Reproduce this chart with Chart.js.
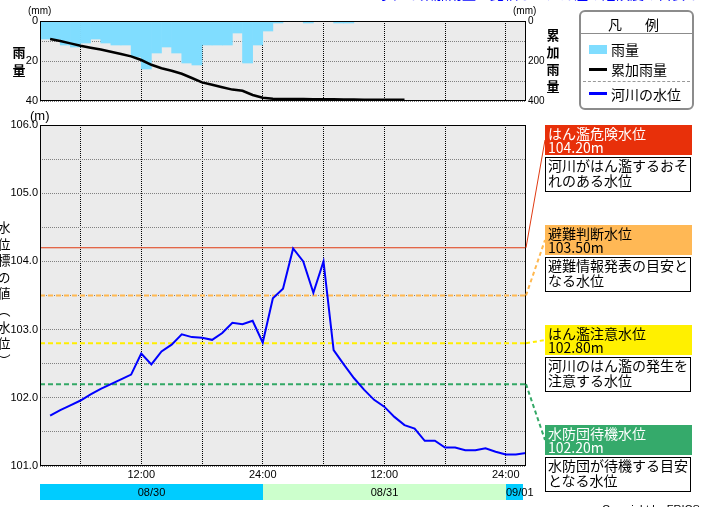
<!DOCTYPE html>
<html><head><meta charset="utf-8">
<script src="https://cdn.jsdelivr.net/npm/chart.js@4.4.0/dist/chart.umd.min.js"></script>
<style>
html,body{margin:0;padding:0;background:#fff;}
#wrap{position:relative;width:703px;height:507px;overflow:hidden;font-family:'Noto Sans CJK JP',sans-serif;color:#000;}
canvas{position:absolute;left:0;top:0;}
.abs{position:absolute;white-space:nowrap;}
.num{font-family:'Liberation Sans',Arial,sans-serif;}
.hdr{position:absolute;left:545px;width:147px;height:30px;box-sizing:border-box;padding:1px 0 0 3px;font-size:14px;line-height:14px;white-space:nowrap;}
.desc{position:absolute;left:545px;width:146px;height:35px;box-sizing:border-box;border:1px solid #000;background:#fff;padding:0 0 0 2px;font-size:14px;line-height:15px;white-space:nowrap;}
.vt{position:absolute;text-align:center;white-space:pre;}
</style></head>
<body>
<div id="wrap">
  <canvas id="main" width="703" height="507"></canvas>
  <canvas id="rain" width="703" height="110"></canvas>
  <div id="overlay"></div>
</div>
<script>
// ---- data ----
// hours are counted from 08/30 02:00 (left edge of the time axis)
const waterStartHour = 1; // first reading 08/30 03:00, hourly
const waterLevel = [101.74, 101.82, 101.89, 101.96, 102.05, 102.13, 102.20, 102.27, 102.34, 102.65,
  102.49, 102.68, 102.78, 102.93, 102.89, 102.88, 102.85, 102.95, 103.10, 103.08,
  103.13, 102.81, 103.46, 103.60, 104.19, 104.00, 103.54, 104.00, 102.70, 102.49,
  102.29, 102.12, 101.97, 101.87, 101.72, 101.60, 101.55, 101.37, 101.37, 101.27,
  101.27, 101.23, 101.23, 101.26, 101.21, 101.17, 101.17, 101.19];
const rainHourly = [9, 9, 12, 13, 11, 9, 11, 12, 12, 18, 24, 16, 13, 16, 21, 22, 12, 12, 12, 6,
  21, 12, 5, 1, 0, 0, 1, 0, 0, 1, 1, 0, 0, 0, 0, 0, 0, 0, 0, 0, 0, 0, 0, 0, 0, 0, 0, 0];
const cumStartHour = 1;
const cumRain = [90, 100, 112, 124, 134, 143, 154, 165, 177, 195, 219, 236, 249, 264, 285, 307, 319, 331, 343, 349,
  370, 384, 389, 390, 390, 390, 391, 391, 391, 392, 393, 394, 394, 394, 394, 394];
const xGridHours = [4, 10, 16, 22, 28, 34, 40, 46];
const xTickLabels = ['', '12:00', '', '24:00', '', '12:00', '', '24:00'];
const levelTickValues = [101, 101.5, 102, 102.5, 103, 103.5, 104, 104.5, 105, 105.5, 106];
const levelTickLabels = ['101.0', '', '102.0', '', '103.0', '', '104.0', '', '105.0', '', '106.0'];
const rainTickValues = [0, 10, 20, 30, 40];
const rainTickLabels = ['0', '', '20', '', '40'];
const cumTickValues = [0, 200, 400];
const cumTickLabels = ['0', '200', '400'];
const dayLabels = ['08/30', '08/31', '09/01'];
const dayStartHours = [0, 22, 46];
const dayEndHours = [22, 46, 47.75];
const dayColors = ['#00CCFF', '#CCFFCC', '#00CCFF'];
const thresholdNames = ['はん濫危険水位', '避難判断水位', 'はん濫注意水位', '水防団待機水位'];
const thresholdValues = [104.20, 103.50, 102.80, 102.20];
const thresholdNotes = [['河川がはん濫するおそ', 'れのある水位'], ['避難情報発表の目安と', 'なる水位'],
  ['河川のはん濫の発生を', '注意する水位'], ['水防団が待機する目安', 'となる水位']];
const thresholdColors = ['#E8300A', '#FFB855', '#FFF000', '#35AA6B'];
const thresholdLineColors = ['#E03A12', '#FFB850', '#FFEE00', '#33A866'];
const thresholdTextColors = ['#FFFFFF', '#000000', '#000000', '#FFFFFF'];

// ---- overlay html (labels, legend) ----
const ov = document.getElementById('overlay');
function add(html){ ov.insertAdjacentHTML('beforeend', html); }
const labelTop0 = 125, labelStep = 100;
thresholdNames.forEach((n, i) => {
  const t = labelTop0 + labelStep * i;
  add(`<div class="hdr" style="top:${t}px;background:${thresholdColors[i]};color:${thresholdTextColors[i]}">${n}<br>${thresholdValues[i].toFixed(2)}m</div>`);
  add(`<div class="desc" style="top:${t + 32}px">${thresholdNotes[i][0]}<br>${thresholdNotes[i][1]}</div>`);
});
// legend
add(`<div class="abs" style="left:579px;top:10px;width:115px;height:100px;box-sizing:border-box;border:2px solid #8c8c8c;border-radius:6px;"></div>`);
add(`<div class="abs" style="left:608px;top:16px;font-size:14px;line-height:16px;letter-spacing:4.5px">凡　例</div>`);
add(`<div class="abs" style="left:581px;top:33px;width:111px;height:1px;background:#8c8c8c"></div>`);
add(`<div class="abs" style="left:589px;top:45px;width:18px;height:9px;background:#80DDFF"></div>`);
add(`<div class="abs" style="left:611px;top:41px;font-size:14px;line-height:16px">雨量</div>`);
add(`<div class="abs" style="left:589px;top:68px;width:18px;height:3px;background:#000"></div>`);
add(`<div class="abs" style="left:611px;top:61px;font-size:14px;line-height:16px">累加雨量</div>`);
add(`<div class="abs" style="left:583px;top:81px;width:107px;height:0;border-top:1px dashed #999"></div>`);
add(`<div class="abs" style="left:589px;top:92px;width:18px;height:3px;background:#0000FF"></div>`);
add(`<div class="abs" style="left:611px;top:86px;font-size:14px;line-height:16px">河川の水位</div>`);
// axis titles / units
add(`<div class="abs num" style="left:28px;top:5px;font-size:10px;line-height:12px">(mm)</div>`);
add(`<div class="abs num" style="left:513px;top:5px;font-size:10px;line-height:12px">(mm)</div>`);
add(`<div class="abs num" style="left:30px;top:108px;font-size:13px;line-height:16px">(m)</div>`);
add(`<div class="vt" style="left:12px;top:43px;width:14px;font-size:13px;line-height:18px;font-weight:bold">雨\n量</div>`);
add(`<div class="vt" style="left:546px;top:26px;width:14px;font-size:13px;line-height:17px;font-weight:bold">累\n加\n雨\n量</div>`);
add(`<div class="vt" style="left:-3px;top:219px;width:14px;font-size:13px;line-height:16.6px">水\n位\n標\nの\n値\n︵\n水\n位\n︶</div>`);
add(`<div class="abs" style="left:378px;top:-14px;font-size:14px;line-height:15px;color:#0000FF">水位と累加雨量を比較し、はん濫の危険度の目安としてください。</div>`);
add(`<div class="abs num" style="left:602px;top:503px;font-size:11px;line-height:13px">Copyright by FRICS</div>`);

// ---- charts ----
const tickFont = {family: "'Liberation Sans', Arial, sans-serif", size: 11};
const bgPlugin = {
  id: 'bg',
  beforeDraw(chart) {
    const a = chart.chartArea, c = chart.ctx;
    c.save(); c.fillStyle = '#EBEBEB'; c.fillRect(a.left, a.top, a.right - a.left, a.bottom - a.top); c.restore();
  },
  afterDraw(chart) {
    const a = chart.chartArea, c = chart.ctx;
    c.save(); c.strokeStyle = '#000'; c.lineWidth = 1; c.setLineDash([]);
    c.strokeRect(a.left + 0.5, a.top + 0.5, a.right - a.left - 1, a.bottom - a.top - 1); c.restore();
  }
};
const mainOverlay = {
  id: 'mainOverlay',
  afterDraw(chart) {
    const c = chart.ctx, a = chart.chartArea, xs = chart.scales.x, ys = chart.scales.y;
    // date bar
    const top = a.bottom + 18;
    c.save();
    c.font = "11px 'Liberation Sans', Arial, sans-serif";
    c.textBaseline = 'middle';
    dayLabels.forEach((lab, i) => {
      const x1 = Math.round(xs.getPixelForValue(dayStartHours[i]));
      const x2 = Math.round(xs.getPixelForValue(dayEndHours[i]));
      c.fillStyle = dayColors[i];
      c.fillRect(x1, top, x2 - x1, 16);
      c.fillStyle = '#000';
      const w = c.measureText(lab).width;
      if (w < x2 - x1) { c.textAlign = 'center'; c.fillText(lab, (x1 + x2) / 2, top + 8.5); }
      else { c.textAlign = 'left'; c.fillText(lab, x1, top + 8.5); }
    });
    // connectors to the threshold labels
    thresholdValues.forEach((v, i) => {
      const y = ys.getPixelForValue(v);
      c.beginPath();
      c.strokeStyle = thresholdLineColors[i];
      c.lineWidth = i === 0 ? 1 : 2;
      c.setLineDash(i === 0 ? [] : [4, 3]);
      c.moveTo(a.right, y);
      c.lineTo(545, labelTop0 + labelStep * i + 15);
      c.stroke();
    });
    c.restore();
  }
};

new Chart(document.getElementById('main'), {
  type: 'line',
  data: {datasets: [
    {data: waterLevel.map((v, i) => ({x: waterStartHour + i, y: v})), borderColor: '#0000FF', borderWidth: 2,
     pointRadius: 0, tension: 0},
    ...thresholdValues.map((v, i) => ({data: [{x: 0, y: v}, {x: 48, y: v}], borderColor: thresholdLineColors[i],
      borderWidth: i === 0 ? 1.2 : 2, borderDash: i === 0 ? [] : [5, 3], pointRadius: 0}))
  ]},
  options: {
    responsive: false, animation: false, devicePixelRatio: 1,
    layout: {padding: {top: 125, bottom: 21, left: 0, right: 177}},
    plugins: {legend: {display: false}, tooltip: {enabled: false}},
    scales: {
      x: {type: 'linear', min: 0, max: 48,
        afterBuildTicks: s => { s.ticks = xGridHours.map(v => ({value: v})); },
        afterFit: s => { s.height = 20; },
        ticks: {autoSkip: false, maxRotation: 0, padding: 2, color: '#000', font: tickFont, callback: (v, i) => xTickLabels[i]},
        grid: {color: '#000', lineWidth: 1, drawTicks: false}, border: {display: false, dash: [1, 1]}},
      y: {min: 101, max: 106,
        afterBuildTicks: s => { s.ticks = levelTickValues.map(v => ({value: v})); },
        afterFit: s => { s.width = 40; },
        ticks: {padding: 2, color: '#000', font: tickFont, callback: (v, i) => levelTickLabels[i]},
        grid: {color: '#808080', lineWidth: 1, drawTicks: false}, border: {display: false, dash: [1, 1]}}
    }
  },
  plugins: [bgPlugin, mainOverlay]
});

new Chart(document.getElementById('rain'), {
  type: 'bar',
  data: {datasets: [
    {type: 'line', data: cumRain.map((v, i) => ({x: cumStartHour + i, y: v})), yAxisID: 'y2', borderColor: '#000',
     borderWidth: 2.5, pointRadius: 0, tension: 0},
    {type: 'bar', data: rainHourly.map((v, i) => ({x: i + 0.5, y: v})), yAxisID: 'y', backgroundColor: '#80DDFF',
     barPercentage: 1, categoryPercentage: 1, borderWidth: 0}
  ]},
  options: {
    responsive: false, animation: false, devicePixelRatio: 1,
    layout: {padding: {top: 21, bottom: 9, left: 0, right: 137}},
    plugins: {legend: {display: false}, tooltip: {enabled: false}},
    scales: {
      x: {type: 'linear', min: 0, max: 48, offset: false,
        afterBuildTicks: s => { s.ticks = xGridHours.map(v => ({value: v})); },
        afterFit: s => { s.height = 0; },
        ticks: {display: false},
        grid: {color: '#000', lineWidth: 1, drawTicks: false, offset: false}, border: {display: false, dash: [1, 1]}},
      y: {position: 'left', reverse: true, min: 0, max: 40,
        afterBuildTicks: s => { s.ticks = rainTickValues.map(v => ({value: v})); },
        afterFit: s => { s.width = 40; },
        ticks: {padding: 2, color: '#000', font: tickFont, callback: (v, i) => rainTickLabels[i]},
        grid: {color: '#808080', lineWidth: 1, drawTicks: false}, border: {display: false, dash: [1, 1]}},
      y2: {position: 'right', reverse: true, min: 0, max: 400,
        afterBuildTicks: s => { s.ticks = cumTickValues.map(v => ({value: v})); },
        afterFit: s => { s.width = 40; },
        ticks: {padding: 2, color: '#000', font: {family: tickFont.family, size: 10}, callback: (v, i) => cumTickLabels[i]},
        grid: {display: false, drawTicks: false}, border: {display: false}}
    }
  },
  plugins: [bgPlugin]
});
</script>
</body></html>
